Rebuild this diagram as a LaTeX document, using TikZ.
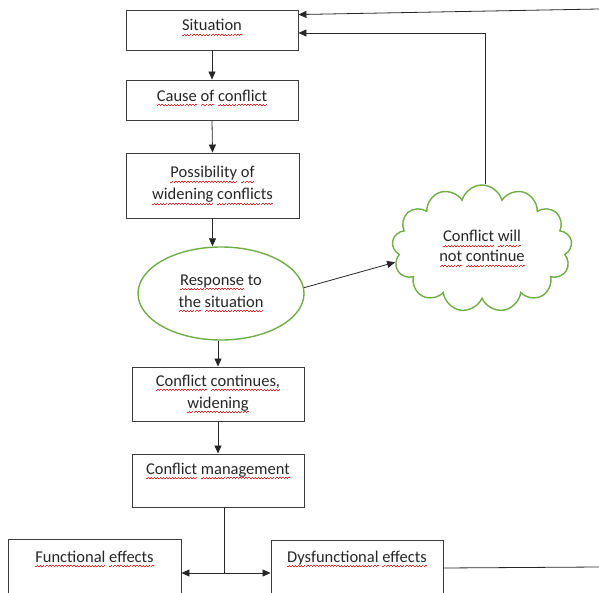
\documentclass[tikz,border=0pt]{standalone}
\usepackage{fontspec}
\setmainfont{Carlito}
\usetikzlibrary{arrows.meta,shapes.geometric,shapes.symbols}
\definecolor{ogreen}{RGB}{112,173,71}
\definecolor{boxline}{RGB}{60,60,60}
\definecolor{squig}{RGB}{230,40,40}
\newsavebox\sqbox
\newcommand\wvpiece{\hbox{\rule[0pt]{1.5pt}{0.8pt}\rule[1pt]{1.5pt}{0.8pt}}}
\newcommand\sqw[1]{\sbox\sqbox{#1}\rlap{\textcolor{squig}{\raisebox{-4.5pt}{\hbox to\wd\sqbox{\xleaders\wvpiece\hfill}}}}\usebox\sqbox}
\tikzset{
  txt/.style={font=\fontsize{16.5}{22}\selectfont, text=black!85},
  box/.style={txt, draw=boxline, line width=0.9pt, minimum width=172pt, inner sep=0pt, align=center},
  topbox/.style={txt, draw=boxline, line width=0.9pt, minimum width=172pt, inner sep=0pt},
  greenshape/.style={txt, draw=ogreen, line width=1.4pt, inner sep=0pt, align=center},
  arr/.style={-{Triangle[length=8pt,width=7pt]}, line width=0.8pt, black!85},
  plain/.style={line width=0.8pt, black!85}
}
\begin{document}
\begin{tikzpicture}[x=1pt,y=-1pt]
\useasboundingbox (0,0) rectangle (599,593);
\clip (0,0) rectangle (599,593);
% nodes
\node[topbox, minimum height=40pt, text height=21pt, text depth=19pt] (sit) at (212,30) {\sqw{Situation}};
\node[topbox, minimum height=40pt, text height=21.5pt, text depth=18.5pt] (cause) at (212,100) {\sqw{Cause} \sqw{of} \sqw{conflict}};
\node[box, minimum width=173pt, minimum height=65pt] (poss) at (212.5,185.5) {\sqw{Possibility} \sqw{of}\\\sqw{widening} \sqw{conflicts}};
\node[greenshape, ellipse, minimum width=166pt, minimum height=93pt] (ell) at (221,293.5) {\sqw{Response} to\\\sqw{the} \sqw{situation}};
\node[greenshape, cloud, cloud puffs=13, aspect=1.45, minimum width=180pt, minimum height=127pt, font=\fontsize{16.5}{20}\selectfont] (cl) at (482,248.5) {\sqw{Conflict} \sqw{will}\\\sqw{not} \sqw{continue}};
\node[box, minimum height=54pt] (cont) at (218,394) {\sqw{Conflict} \sqw{continues,}\\\sqw{widening}};
\node[topbox, minimum height=53pt, text height=20pt, text depth=33pt] (mgmt) at (218,480.5) {\sqw{Conflict} \sqw{management}};
\node[topbox, minimum width=173pt, minimum height=57pt, text height=23pt, text depth=34pt] (func) at (94.5,567.5) {\sqw{Functional} \sqw{effects}};
\node[topbox, minimum height=56pt, text height=22pt, text depth=34pt] (dys) at (357,568) {\sqw{Dysfunctional} \sqw{effects}};
% coordinates
\coordinate (tr) at (599,9);
\coordinate (fb) at (485,33);
\coordinate (j) at (224,573);
\coordinate (r2) at (599,567);
% connectors
\draw[arr] (sit.south) -- (cause.north);
\draw[arr] (cause.south) -- (poss.north);
\draw[arr] (poss.south) -- (poss.south |- ell.north);
\draw[arr] (ell.south -| cont.north) -- (cont.north);
\draw[arr] (cont.south) -- (mgmt.north);
\draw[arr] (ell.4) -- (cl.189);
\draw[arr] (cl.north -| fb) -- (fb) -- (sit.east |- fb);
\draw[arr] (tr) -- ([yshift=-5pt]sit.north east);
\draw[plain] (mgmt.south -| j) -- (j);
\draw[arr] (j) -- (func.east |- j);
\draw[arr] (j) -- (dys.west |- j);
\draw[plain] (dys.east) -- (r2);
\end{tikzpicture}
\end{document}
